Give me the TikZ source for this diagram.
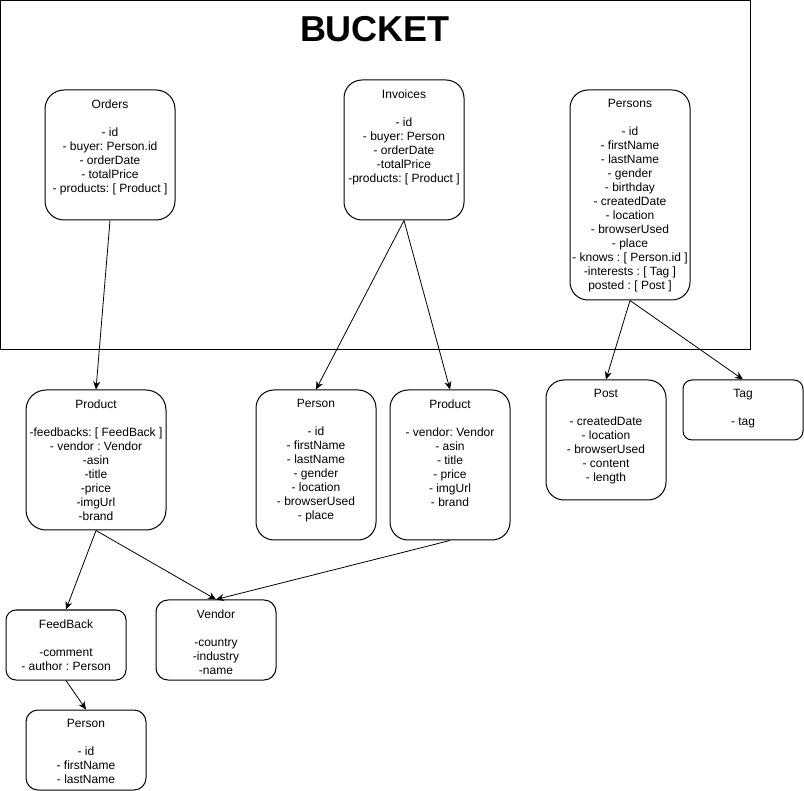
\documentclass[tikz,border=0pt]{standalone}
\usepackage{fontspec}
\setmainfont{Liberation Sans}
\usetikzlibrary{arrows.meta}
\usetikzlibrary{positioning}

\begin{document}
\frenchspacing
\begin{tikzpicture}[x=1pt, y=-1pt,
	entity/.style={draw, line width=1pt, rounded corners=18pt, inner sep=0pt},
	fields/.style={anchor=north, align=center, inner sep=0pt, yshift=-10pt, font=\fontsize{12pt}{14pt}\selectfont},
	link/.style={-{Stealth[length=8pt, width=7pt, inset=2.5pt]}, line width=0.8pt}]
	\useasboundingbox (0,0) rectangle (804,791);
	% bucket
	\draw[line width=1pt] (0.5,0.5) rectangle (750,350);
	\node[font=\fontsize{36pt}{40pt}\selectfont\bfseries] (bucketTitle) at (375,29) {BUCKET};
	% boxes
	\node[entity, minimum width=130pt, minimum height=130pt, rounded corners=19pt] (orders) at (110,155) {};
	\node[entity, minimum width=120pt, minimum height=140pt] (invoices) at (404,150) {};
	\node[entity, minimum width=120pt, minimum height=210pt] (persons) at (630,195) {};
	\node[entity, minimum width=140pt, minimum height=140pt, rounded corners=20pt] (productA) at (96,460) {};
	\node[entity, minimum width=120pt, minimum height=150pt] (personMid) at (316,465) {};
	\node[entity, minimum width=120pt, minimum height=150pt] (productB) [right=13pt of personMid] {};
	\node[entity, minimum width=120pt, minimum height=120pt] (post) at (606,440) {};
	\node[entity, minimum width=120pt, minimum height=60pt, rounded corners=9pt] (tag) at (743,410) {};
	\node[entity, minimum width=120pt, minimum height=70pt, rounded corners=10pt] (feedback) at (66,645) {};
	\node[entity, minimum width=120pt, minimum height=80pt, rounded corners=12pt] (vendor) at (216,640) {};
	\node[entity, minimum width=120pt, minimum height=80pt, rounded corners=12pt] (personLow) at (86,750) {};
	% texts
	\node[fields] (ordersText) at (orders.north) {Orders\\[14pt]- id\\- buyer: Person.id\\- orderDate\\- totalPrice\\- products: [ Product ]};
	\node[fields] (invoicesText) at (invoices.north) {Invoices\\[14pt]- id\\- buyer: Person\\- orderDate\\-totalPrice\\-products: [ Product ]};
	\node[fields] (personsText) at (persons.north) {Persons\\[14pt]- id\\- firstName\\- lastName\\- gender\\- birthday\\- createdDate\\- location\\- browserUsed\\- place\\- knows : [ Person.id ]\\-interests : [ Tag ]\\posted : [ Post ]};
	\node[fields] (productAText) at (productA.north) {Product\\[14pt]-feedbacks: [ FeedBack ]\\- vendor : Vendor\\-asin\\-title\\-price\\-imgUrl\\-brand};
	\node[fields] (personMidText) at (personMid.north) {Person\\[14pt]- id\\- firstName\\- lastName\\- gender\\- location\\- browserUsed\\- place};
	\node[fields] (productBText) at (productB.north) {Product\\[14pt]- vendor: Vendor\\- asin\\- title\\- price\\- imgUrl\\- brand};
	\node[fields] (postText) at (post.north) {Post\\[14pt]- createdDate\\- location\\- browserUsed\\- content\\- length};
	\node[fields] (tagText) at (tag.north) {Tag\\[14pt]- tag};
	\node[fields] (feedbackText) at (feedback.north) {FeedBack\\[14pt]-comment\\- author : Person};
	\node[fields] (vendorText) at (vendor.north) {Vendor\\[14pt]-country\\-industry\\-name};
	\node[fields] (personLowText) at (personLow.north) {Person\\[14pt]- id\\- firstName\\- lastName};
	% links
	\draw[link] (orders.south) -- (productA.north);
	\draw[link] (invoices.south) -- (personMid.north);
	\draw[link] (invoices.south) -- (productB.north);
	\draw[link] (persons.south) -- (post.north);
	\draw[link] (persons.south) -- (tag.north);
	\draw[link] (productA.south) -- (feedback.north);
	\draw[link] (productA.south) -- (vendor.north);
	\draw[link] (productB.south) -- (vendor.north);
	\draw[link] (feedback.south) -- (personLow.north);
\end{tikzpicture}
\end{document}
